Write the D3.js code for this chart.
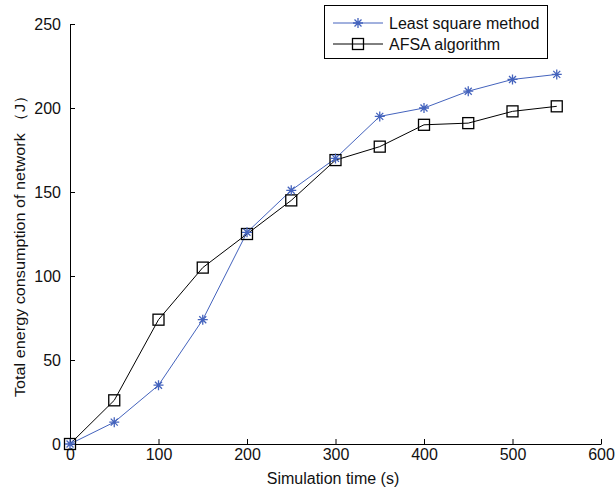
<!DOCTYPE html>
<html><head><meta charset="utf-8">
<script src="https://cdn.jsdelivr.net/npm/d3@7"></script>
<style>body{margin:0;background:#fff}text{font-family:"Liberation Sans",Arial,sans-serif}</style>
</head><body>
<svg id="c" width="615" height="488"></svg>
<script>
const times = [0,50,100,150,200,250,300,350,400,450,500,550];
const leastSquare = [0,13,35,74,126,151,170,195,200,210,217,220];
const afsa = [0,26,74,105,125,145,169,177,190,191,198,201];
const xTicks = [0,100,200,300,400,500,600];
const yTicks = [0,50,100,150,200,250];
const seriesNames = ["Least square method","AFSA algorithm"];

const svg = d3.select("#c");
const x = d3.scaleLinear().domain([0,600]).range([70,601]);
const y = d3.scaleLinear().domain([0,250]).range([444,24]);
const blue = "#4463bd";
const fs = 16;

const xa = svg.append("g").attr("transform","translate(0,444)")
  .call(d3.axisBottom(x).tickValues(xTicks).tickSizeInner(-5).tickSizeOuter(0).tickPadding(3));
const ya = svg.append("g").attr("transform","translate(70,0)")
  .call(d3.axisLeft(y).tickValues(yTicks).tickSizeInner(-5).tickSizeOuter(0).tickPadding(9));
[xa,ya].forEach(a=>{
  a.select(".domain").attr("stroke","#000");
  a.selectAll(".tick line").attr("stroke","#000");
  a.selectAll("text").attr("font-size",fs).attr("fill","#111");
});
xa.selectAll("text").attr("dy","0.8em");

svg.append("text").attr("x",333).attr("y",484).attr("text-anchor","middle")
  .attr("font-size",fs).attr("fill","#111").text("Simulation time (s)");
svg.append("text").attr("transform","translate(25,397) rotate(-90) scale(1.08,1)").attr("text-anchor","start")
  .attr("font-size",15).attr("fill","#111").text("Total energy consumption of network （J）");

const line = d3.line().x((d,i)=>x(times[i])).y(d=>y(d));
svg.append("path").datum(leastSquare).attr("d",line).attr("fill","none").attr("stroke",blue).attr("stroke-width",1);
svg.append("path").datum(afsa).attr("d",line).attr("fill","none").attr("stroke","#000").attr("stroke-width",1);

function star(g,cx,cy){
  const r=5;
  g.append("path").attr("d",`M${cx-r},${cy}H${cx+r}M${cx},${cy-r}V${cy+r}M${cx-r*0.7},${cy-r*0.7}L${cx+r*0.7},${cy+r*0.7}M${cx-r*0.7},${cy+r*0.7}L${cx+r*0.7},${cy-r*0.7}`)
    .attr("stroke",blue).attr("stroke-width",1.3).attr("fill","none");
}
function sq(g,cx,cy){
  g.append("rect").attr("x",cx-5.5).attr("y",cy-5.5).attr("width",11).attr("height",11)
    .attr("fill","none").attr("stroke","#000").attr("stroke-width",1.3);
}
const mg = svg.append("g");
afsa.forEach((v,i)=>sq(mg,x(times[i]),y(v)));
leastSquare.forEach((v,i)=>star(mg,x(times[i]),y(v)));

const lg = svg.append("g");
lg.append("rect").attr("x",324.5).attr("y",5.5).attr("width",223).attr("height",53)
  .attr("fill","#fff").attr("stroke","#000").attr("stroke-width",1);
const rows=[23,44];
lg.append("line").attr("x1",333).attr("x2",383).attr("y1",rows[0]).attr("y2",rows[0]).attr("stroke",blue);
star(lg,358,rows[0]);
lg.append("line").attr("x1",333).attr("x2",383).attr("y1",rows[1]).attr("y2",rows[1]).attr("stroke","#000");
sq(lg,358,rows[1]);
seriesNames.forEach((n,i)=>lg.append("text").attr("x",389).attr("y",rows[i]+6).attr("font-size",fs).attr("fill","#111").text(n));
</script>
</body></html>
